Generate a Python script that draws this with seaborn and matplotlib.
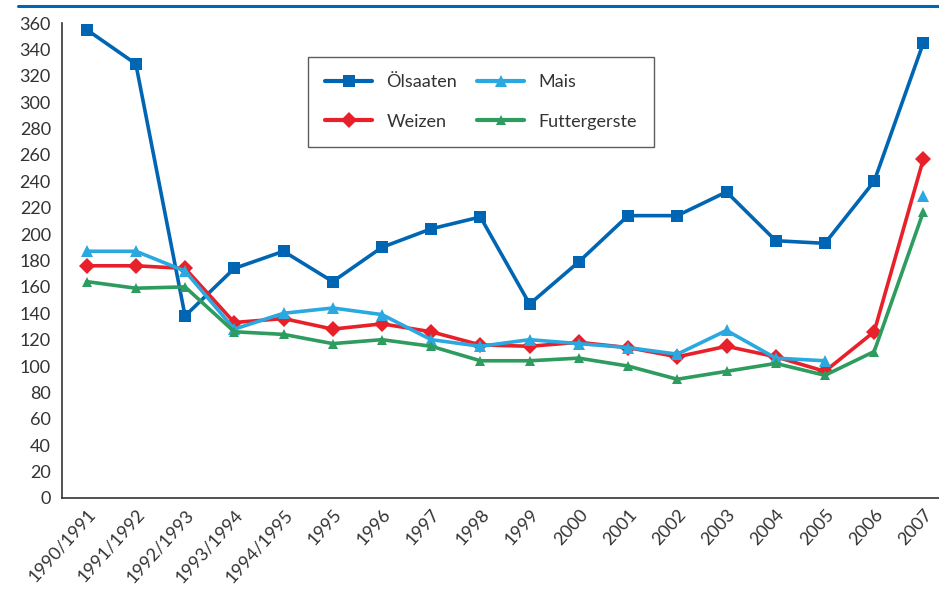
import numpy as np
import pandas as pd
import seaborn as sns
from matplotlib import pyplot as plt
from matplotlib.lines import Line2D

years = ['1990/1991', '1991/1992', '1992/1993', '1993/1994', '1994/1995',
         '1995', '1996', '1997', '1998', '1999', '2000', '2001', '2002',
         '2003', '2004', '2005', '2006', '2007']

oelsaaten = [355, 329, 138, 174, 187, 164, 190, 204, 213, 147, 179, 214, 214, 232, 195, 193, 240, 345]
weizen = [176, 176, 174, 133, 136, 128, 132, 126, 116, 115, 118, 114, 107, 115, 107, 96, 126, 257]
mais = [187, 187, 172, 128, 140, 144, 139, 120, 115, 120, 117, 114, 109, 127, 106, 104, np.nan, 229]
futtergerste = [164, 159, 160, 126, 124, 117, 120, 115, 104, 104, 106, 100, 90, 96, 102, 93, 111, 217]

series = [
    ('Ölsaaten', oelsaaten, '#0066b3', 's', 9),
    ('Weizen', weizen, '#e8202a', 'D', 8),
    ('Mais', mais, '#29a9e0', '^', 9),
    ('Futtergerste', futtergerste, '#2e9b5f', '^', 7),
]

sns.set_style('white')
plt.rcParams['font.family'] = ['Lato', 'DejaVu Sans']

fig = plt.figure(figsize=(9.39, 5.89), dpi=100)
ax = fig.add_axes([62 / 939, 91 / 589, 886 / 939, 475 / 589])

pos = np.arange(len(years))
handles = []
for name, vals, color, marker, ms in series:
    df = pd.DataFrame({'x': pos, 'y': vals})
    # split into runs so a missing year breaks the line
    df['run'] = df['y'].isna().cumsum()
    df = df.dropna()
    for _, part in df.groupby('run'):
        sns.lineplot(data=part, x='x', y='y', ax=ax, color=color, linewidth=2.6,
                     marker=marker, markersize=ms, markeredgewidth=0, legend=False)
    handles.append(Line2D([], [], color=color, linewidth=3, marker=marker,
                          markersize=ms, markeredgewidth=0, label=name))

ax.set_xlim(-0.5, len(years) - 0.5)
ax.set_ylim(0, 360)
ax.set_yticks(range(0, 361, 20))
ax.set_xticks(pos)
ax.set_xticklabels(years, rotation=48, ha='right', rotation_mode='anchor',
                   fontsize=13, color='#333333')
ax.set_xticks(np.arange(-0.5, len(years), 1), minor=True)
ax.tick_params(axis='x', which='major', length=0, pad=6)
ax.tick_params(axis='x', which='minor', direction='inout', length=14, width=1, color='#333333')
ax.tick_params(axis='y', direction='inout', length=12, width=1, color='#333333',
               labelsize=13, labelcolor='#333333', pad=2)
ax.set_xlabel('')
ax.set_ylabel('')
for s in ['top', 'right']:
    ax.spines[s].set_visible(False)
for s in ['left', 'bottom']:
    ax.spines[s].set_color('#333333')
    ax.spines[s].set_linewidth(1.2)

leg = fig.legend(handles=handles, ncol=2, loc='upper left',
                 bbox_to_anchor=(308 / 939, 1 - 57 / 589), borderaxespad=0,
                 frameon=True, fancybox=False, edgecolor='#333333', fontsize=13,
                 handlelength=2.6, columnspacing=1.1, labelspacing=1.3,
                 borderpad=0.95, handletextpad=0.8)
leg.get_frame().set_linewidth(1)
for t in leg.get_texts():
    t.set_color('#333333')

fig.add_artist(Line2D([18 / 939, 1], [1 - 6 / 589, 1 - 6 / 589],
                      color='#0066b3', linewidth=2.2, transform=fig.transFigure))

fig.savefig('out.png', dpi=100)
